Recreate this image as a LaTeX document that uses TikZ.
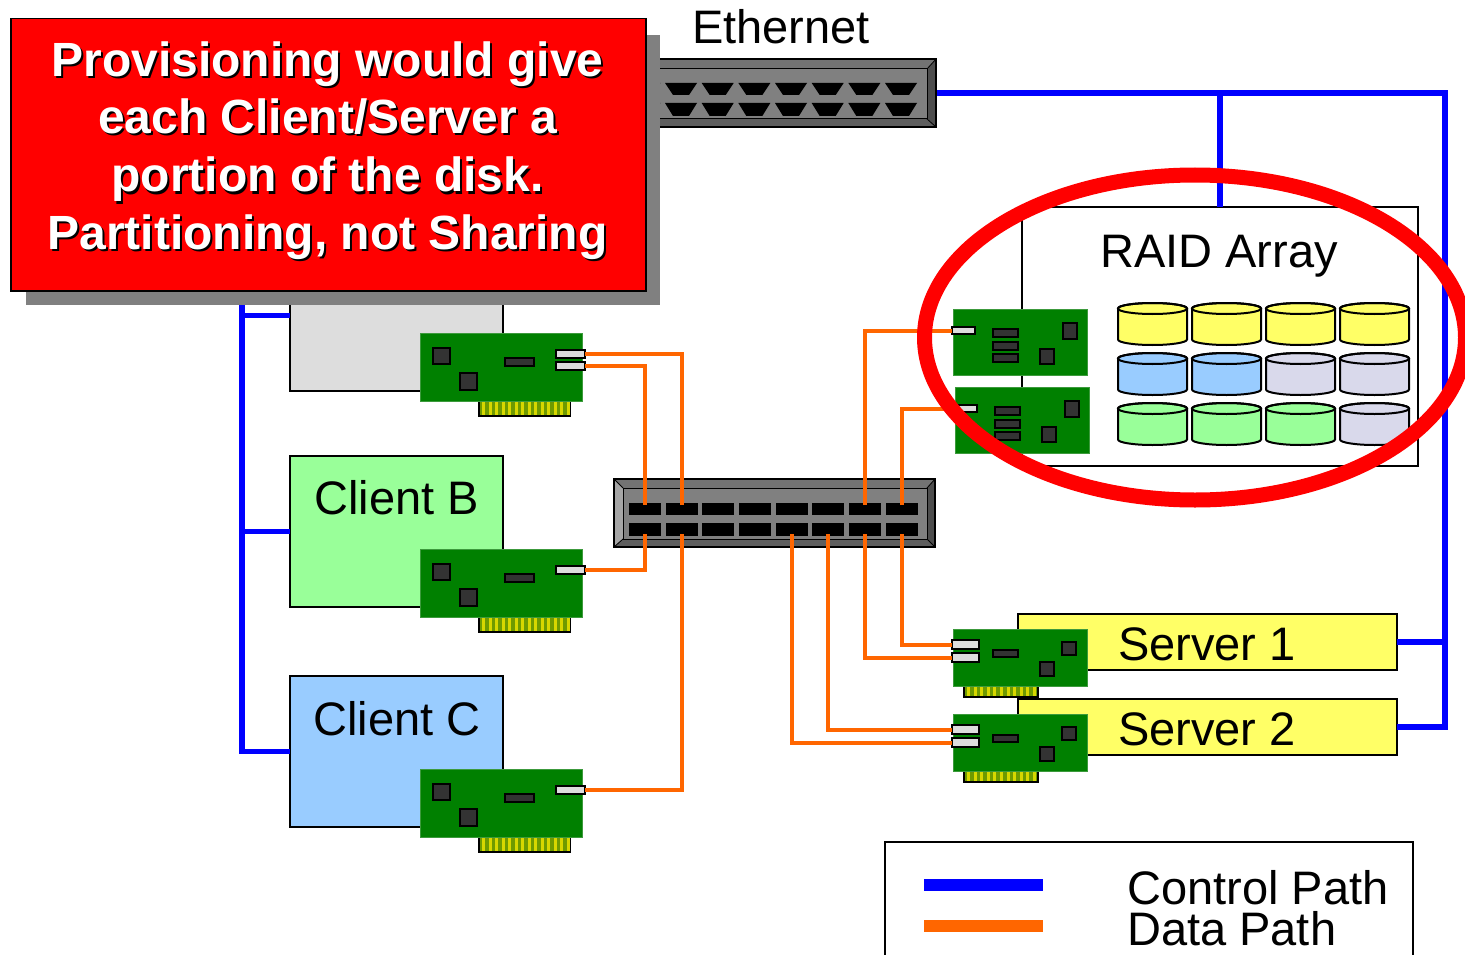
\documentclass[tikz,border=0pt]{standalone}
\usepackage{fontspec}
\setmainfont{Liberation Sans}
\definecolor{ctlblue}{HTML}{0000FF}
\definecolor{dataorange}{HTML}{FF6600}
\definecolor{cardgreen}{HTML}{008000}
\definecolor{cardedge}{HTML}{3C9A3C}
\definecolor{chipgray}{HTML}{333333}
\definecolor{portgray}{HTML}{DDDDDD}
\definecolor{fingerbase}{HTML}{6E9A00}
\definecolor{fingergold}{HTML}{D7D700}
\definecolor{hostgray}{HTML}{DDDDDD}
\definecolor{hostgreen}{HTML}{99FF99}
\definecolor{hostblue}{HTML}{99CCFF}
\definecolor{hostyellow}{HTML}{FFFF66}
\definecolor{disklav}{HTML}{D9D9EB}
\definecolor{swface}{HTML}{808080}
\definecolor{bevT}{HTML}{737373}
\definecolor{bevL}{HTML}{A6A6A6}
\definecolor{bevR}{HTML}{4D4D4D}
\definecolor{bevB}{HTML}{5E5E5E}
\definecolor{noteshade}{HTML}{808080}
\definecolor{notered}{HTML}{FF0000}
\begin{document}
\begin{tikzpicture}[x=1pt,y=-1pt,
  ctlpath/.style={draw=ctlblue,line width=5.5pt,line join=miter},
  datapath/.style={draw=dataorange,line width=4pt,line join=miter},
  hostbox/.style={draw=black,line width=1.5pt,anchor=north west,inner sep=0pt,outer sep=0pt},
  lbl/.style={font=\fontsize{47}{47}\selectfont,anchor=base west,inner sep=0pt},
  notetext/.style={font=\fontsize{48}{48}\selectfont\bfseries,anchor=base,inner sep=0pt},
  chip/.style={fill=chipgray,draw=black,line width=1.5pt},
  portbox/.style={fill=portgray,draw=black,line width=1.5pt},
  cardbody/.style={fill=cardgreen,draw=cardedge,line width=0.8pt},
  edgeconn/.style={fill=fingerbase,draw=black,line width=1.2pt},
  clientcard/.pic={
    \filldraw[edgeconn] (59,66) rectangle (150,83);
    \foreach \s in {0,...,13} \fill[fingergold] ({62+6.5*\s},69) rectangle ++(3.2,13);
    \filldraw[cardbody] (0,0) rectangle (162,68);
    \filldraw[chip] (13,15) rectangle (30,31);
    \filldraw[chip] (40,40) rectangle (57,57);
    \filldraw[chip] (85,25) rectangle (114,33);
    \filldraw[portbox] (136,17) rectangle (165,25);
    \coordinate (-p1) at (165,21);
    \ifnum#1>1
      \filldraw[portbox] (136,29) rectangle (165,37);
      \coordinate (-p2) at (165,33);
    \fi
  },
  servercard/.pic={
    \filldraw[edgeconn] (11,55) rectangle (85,68);
    \foreach \s in {0,...,10} \fill[fingergold] ({14+6.6*\s},58) rectangle ++(3,9);
    \filldraw[cardbody] (0,0) rectangle (134,57);
    \filldraw[chip] (40,21) rectangle (65,28);
    \filldraw[chip] (109,13) rectangle (123,26);
    \filldraw[chip] (87,33) rectangle (101,47);
    \filldraw[portbox] (-1,11) rectangle (26,20);
    \filldraw[portbox] (-1,24) rectangle (26,33);
    \coordinate (-p1) at (-1,15.5);
    \coordinate (-p2) at (-1,28.5);
  },
  raidcard/.pic={
    \filldraw[cardbody] (0,0) rectangle (134,66);
    \filldraw[chip] (40,20) rectangle (65,28);
    \filldraw[chip] (40,33) rectangle (65,41);
    \filldraw[chip] (40,45) rectangle (65,53);
    \filldraw[chip] (110,14) rectangle (124,30);
    \filldraw[chip] (87,40) rectangle (101,55);
    \filldraw[portbox] (-1,18) rectangle (22,25);
    \coordinate (-p1) at (-1,21.5);
  },
  disk/.pic={
    \filldraw[fill=#1,draw=black,line width=2pt]
      (-34.5,0) -- (-34.5,31)
      arc[start angle=180,end angle=0,x radius=34.5,y radius=5.5]
      -- (34.5,0)
      arc[start angle=0,end angle=-180,x radius=34.5,y radius=5.5] -- cycle;
    \draw[black,line width=2pt] (0,0) ellipse[x radius=34.5,y radius=5.5];
  }]
\useasboundingbox (0,0) rectangle (1465,955);
\clip (0,0) rectangle (1465,955);

% hosts, storage enclosure and legend frame
\node[hostbox,fill=hostgray,minimum width=213pt,minimum height=151pt] (cA) at (290,240) {};
\node[hostbox,fill=hostgreen,minimum width=213pt,minimum height=151pt] (cB) at (290,456) {};
\node[hostbox,fill=hostblue,minimum width=213pt,minimum height=151pt] (cC) at (290,676) {};
\node[hostbox,fill=hostyellow,minimum width=379pt,minimum height=56pt] (s1) at (1018,614) {};
\node[hostbox,fill=hostyellow,minimum width=379pt,minimum height=56pt] (s2) at (1018,699) {};
\node[hostbox,fill=white,minimum width=396pt,minimum height=259pt] (raid) at (1022,207) {};
\node[hostbox,fill=white,minimum width=528pt,minimum height=140pt] (legend) at (885,842) {};

% Ethernet control network
\coordinate (ethL) at (600,93);
\coordinate (ethR) at (936,93);
\coordinate (busL) at (242,93);
\coordinate (busR) at (1445,93);
\draw[ctlpath] (ethL) -- (busL) |- (cC.west);
\draw[ctlpath] (busL |- cA.west) -- (cA.west);
\draw[ctlpath] (busL |- cB.west) -- (cB.west);
\draw[ctlpath] (ethR) -- (busR) |- (s2.east);
\draw[ctlpath] (busR |- s1.east) -- (s1.east);
\draw[ctlpath] (ethR -| raid.north) -- (raid.north);

% disk drives in the array
\foreach \c/\col in {0/hostyellow,1/hostyellow,2/hostyellow,3/hostyellow}
  \pic at ({1152.5+74*\c},308.5) {disk=\col};
\foreach \c/\col in {0/hostblue,1/hostblue,2/disklav,3/disklav}
  \pic at ({1152.5+74*\c},358.5) {disk=\col};
\foreach \c/\col in {0/hostgreen,1/hostgreen,2/hostgreen,3/disklav}
  \pic at ({1152.5+74*\c},408.5) {disk=\col};

% Ethernet switch
\filldraw[fill=swface,draw=black,line width=1.5pt] (560,59) rectangle (936,127);
\fill[bevT] (560,59) -- (936,59) -- (927,69) -- (560,69) -- cycle;
\fill[bevR] (936,59) -- (936,127) -- (927,119) -- (927,69) -- cycle;
\fill[bevB] (560,127) -- (936,127) -- (927,119) -- (560,119) -- cycle;
\draw[black,line width=1pt] (560,69) -- (927,69) -- (927,119) -- (560,119);
\draw[black,line width=0.8pt] (936,59) -- (927,69) (936,127) -- (927,119);
\draw[black,line width=1.5pt] (560,59) rectangle (936,127);
\foreach \i in {-2,...,6} {
  \fill[black] ({665+36.667*\i},83) -- ++(32,0) -- ++(-8,12) -- ++(-16,0) -- cycle;
  \fill[black] ({665+36.667*\i},103) -- ++(32,0) -- ++(-8,13) -- ++(-16,0) -- cycle;
}

% Fibre Channel switch
\filldraw[fill=swface,draw=black,line width=1.5pt] (614,479) rectangle (935,547);
\fill[bevL] (614,479) -- (623,488) -- (623,539) -- (614,547) -- cycle;
\fill[bevT] (614,479) -- (935,479) -- (927,488) -- (623,488) -- cycle;
\fill[bevR] (935,479) -- (935,547) -- (927,539) -- (927,488) -- cycle;
\fill[bevB] (614,547) -- (935,547) -- (927,539) -- (623,539) -- cycle;
\draw[black,line width=1pt] (623,488) rectangle (927,539);
\draw[black,line width=0.8pt] (614,479) -- (623,488) (935,479) -- (927,488)
  (614,547) -- (623,539) (935,547) -- (927,539);
\draw[black,line width=1.5pt] (614,479) rectangle (935,547);
\foreach \i in {0,...,7} {
  \fill[black] ({629+36.667*\i},503) rectangle ++(32,12);
  \fill[black] ({629+36.667*\i},523) rectangle ++(32,13);
}
\foreach \i in {1,...,8} {
  \coordinate (fcT\i) at ({645+36.667*(\i-1)},505);
  \coordinate (fcB\i) at ({645+36.667*(\i-1)},534);
}

% host bus adapters
\pic (cAc) at (420,333) {clientcard=2};
\pic (cBc) at (420,549) {clientcard=1};
\pic (cCc) at (420,769) {clientcard=1};
\pic (s1c) at (953,629) {servercard};
\pic (s2c) at (953,714) {servercard};
\pic (r1c) at (953,309) {raidcard};
\pic (r2c) at (955,387) {raidcard};

% Fibre Channel data paths
\draw[datapath] (cAc-p1) -| (fcT2);
\draw[datapath] (cAc-p2) -| (fcT1);
\draw[datapath] (cBc-p1) -| (fcB1);
\draw[datapath] (cCc-p1) -| (fcB2);
\draw[datapath] (fcT7) |- (r1c-p1);
\draw[datapath] (fcT8) |- (r2c-p1);
\draw[datapath] (fcB8) |- (s1c-p1);
\draw[datapath] (fcB7) |- (s1c-p2);
\draw[datapath] (fcB6) |- (s2c-p1);
\draw[datapath] (fcB5) |- (s2c-p2);

% labels
\node[lbl] (ethlbl) at (692,44) {Ethernet};
\node[lbl] (raidlbl) at (1100,267) {RAID Array};
\node[lbl] (cBlbl) at (314,514) {Client B};
\node[lbl] (cClbl) at (313,735) {Client C};
\node[lbl] (s1lbl) at (1118,660) {Server 1};
\node[lbl] (s2lbl) at (1118,745) {Server 2};

% legend
\coordinate (lgA) at (924,885);
\coordinate (lgB) at (1043,885);
\coordinate (lgC) at (924,926);
\coordinate (lgD) at (1043,926);
\draw[ctlpath,line width=12pt] (lgA) -- (lgB);
\draw[datapath,line width=12pt] (lgC) -- (lgD);
\node[lbl] (lgctl) at (1127,904) {Control Path};
\node[lbl] (lgdata) at (1127,945) {Data Path};

% highlight ring round the array
\draw[notered,line width=15pt] (1195,337.5) ellipse[x radius=270.5,y radius=162.5];

% callout
\fill[noteshade] (26,35) rectangle (660,305);
\node[draw=black,fill=notered,line width=1.5pt,anchor=north west,inner sep=0pt,
  minimum width=635pt,minimum height=272pt] (note) at (10,18) {};
\foreach \txt/\yy [count=\k] in {{Provisioning would give}/77,{each Client/Server a}/134,
    {portion of the disk.}/192,{Partitioning, not Sharing}/249} {
  \node[notetext,text=black] (noteshadow\k) at (329.5,\yy+2) {\txt};
  \node[notetext,text=white] (noteline\k) at (327.5,\yy) {\txt};
}
\end{tikzpicture}
\end{document}
